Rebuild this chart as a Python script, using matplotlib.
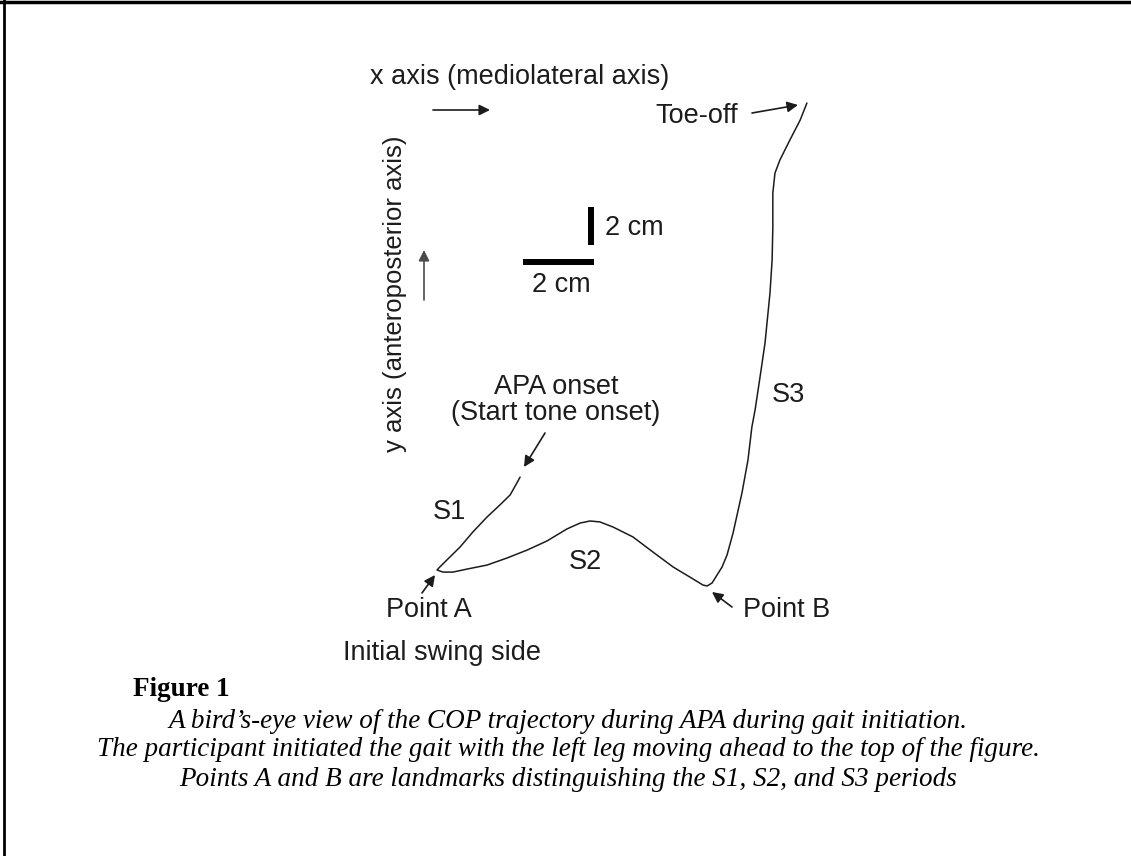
import numpy as np
import matplotlib.pyplot as plt
from matplotlib.lines import Line2D

# COP trajectory (cm, relative to point A); x = mediolateral, y = anteroposterior
s1_x = [2.34, 2.25, 2.06, 1.77, 1.41, 1.01, 0.65, 0.28, 0.08, 0.0]
s1_y = [4.89, 4.58, 3.95, 3.42, 2.79, 2.00, 1.21, 0.53, 0.16, 0.0]
s2_x = [0.17, 0.45, 0.85, 1.41, 1.97, 2.54, 3.10, 3.66, 4.03, 4.31, 4.59,
        4.96, 5.52, 6.08, 6.65, 7.21, 7.49, 7.61]
s2_y = [-0.11, -0.11, 0.05, 0.26, 0.63, 1.05, 1.53, 2.16, 2.47, 2.58, 2.53,
        2.26, 1.74, 0.95, 0.16, -0.47, -0.79, -0.84]
s3_x = [7.75, 7.89, 8.03, 8.17, 8.34, 8.59, 8.76, 8.87, 8.96, 9.10, 9.24,
        9.38, 9.44, 9.46, 9.46, 9.52, 9.66, 9.94, 10.23, 10.42]
s3_y = [-0.68, -0.26, 0.16, 0.79, 1.95, 4.05, 5.79, 7.53, 8.42, 10.16, 11.95,
        14.58, 16.32, 18.05, 19.84, 20.89, 21.58, 22.63, 23.68, 24.58]

scale_len = 2.0  # cm
caption = [
    "A bird\u2019s-eye view of the COP trajectory during APA during gait initiation.",
    "The participant initiated the gait with the left leg moving ahead to the top of the figure.",
    "Points A and B are landmarks distinguishing the S1, S2, and S3 periods",
]

W, H = 1131, 856
PX_CM_X, PX_CM_Y = 35.5, 19.0
ORIGIN = (437, 570)
box = (400, 80, 840, 620)

plt.rcParams['font.family'] = ['Liberation Sans', 'DejaVu Sans']
ink = '#1c1c1c'

fig = plt.figure(figsize=(W / 100, H / 100), dpi=100)
fig.patch.set_facecolor('white')

# page overlay in pixel units
ax = fig.add_axes([0, 0, 1, 1])
ax.set_xlim(0, W)
ax.set_ylim(H, 0)
ax.axis('off')

# trajectory axes in cm
tx = fig.add_axes([box[0] / W, 1 - box[3] / H, (box[2] - box[0]) / W, (box[3] - box[1]) / H])
tx.set_xlim((box[0] - ORIGIN[0]) / PX_CM_X, (box[2] - ORIGIN[0]) / PX_CM_X)
tx.set_ylim((ORIGIN[1] - box[3]) / PX_CM_Y, (ORIGIN[1] - box[1]) / PX_CM_Y)
tx.axis('off')
tx.patch.set_alpha(0)

xs = np.concatenate([s1_x, s2_x, s3_x])
ys = np.concatenate([s1_y, s2_y, s3_y])
tx.plot(xs, ys, color=ink, lw=1.1, solid_joinstyle='round', solid_capstyle='round')

# scale bars
hx0, hy = 2.42, 16.21
tx.plot([hx0, hx0 + scale_len], [hy, hy], color='black', lw=4.3, solid_capstyle='butt')
vx, vy0 = 4.34, 17.11
tx.plot([vx, vx], [vy0, vy0 + scale_len], color='black', lw=4.3, solid_capstyle='butt')

fs = 19.5
txt = dict(color=ink, fontsize=fs)
arrow = dict(arrowstyle='-|>', color=ink, lw=1.2, mutation_scale=16, shrinkA=0, shrinkB=0)

ax.text(520, 77, "x axis (mediolateral axis)", ha='center', va='center', **txt)
ax.annotate("", xy=(490, 110), xytext=(433, 110), arrowprops=arrow)
ax.text(395, 294, "y axis (anteroposterior axis)", ha='center', va='center',
        rotation=90, color=ink, fontsize=18.5)
ax.annotate("", xy=(424, 250), xytext=(424, 300),
            arrowprops=dict(arrow, color='#4a4a4a'))

ax.text(605, 228, "2 cm", ha='left', va='center', **txt)
ax.text(561, 285, "2 cm", ha='center', va='center', **txt)

ax.text(738, 116, "Toe-off", ha='right', va='center', **txt)
ax.annotate("", xy=(798, 105), xytext=(752, 113), arrowprops=arrow)

ax.text(556, 387, "APA onset", ha='center', va='center', **txt)
ax.text(556, 413, "(Start tone onset)", ha='center', va='center', **txt)
ax.annotate("", xy=(524, 467), xytext=(545, 433), arrowprops=arrow)

ax.text(449, 512, "S1", ha='center', va='center', **txt)
ax.text(585, 562, "S2", ha='center', va='center', **txt)
ax.text(788, 395, "S3", ha='center', va='center', **txt)

ax.text(472, 610, "Point A", ha='right', va='center', **txt)
ax.annotate("", xy=(435, 575), xytext=(422, 593), arrowprops=arrow)
ax.text(743, 610, "Point B", ha='left', va='center', **txt)
ax.annotate("", xy=(712, 592), xytext=(732, 607), arrowprops=arrow)

ax.text(343, 653, "Initial swing side", ha='left', va='center', **txt)

# caption
serif = ['Liberation Serif', 'DejaVu Serif']
ax.text(133, 689, "Figure 1", ha='left', va='center', fontsize=19.5, fontweight='bold',
        family=serif, color='black')
for i, line in enumerate(caption):
    ax.text(568, 721 + 29 * i, line, ha='center', va='center', fontsize=19.5,
            style='italic', family=serif, color='black')

# page frame: top and left rules
fig.add_artist(Line2D([0, 1], [1 - 2 / H, 1 - 2 / H], color='black', lw=2.5,
                      transform=fig.transFigure))
fig.add_artist(Line2D([4 / W, 4 / W], [0, 1], color='black', lw=2.0,
                      transform=fig.transFigure))

fig.savefig("out.png", dpi=100)
